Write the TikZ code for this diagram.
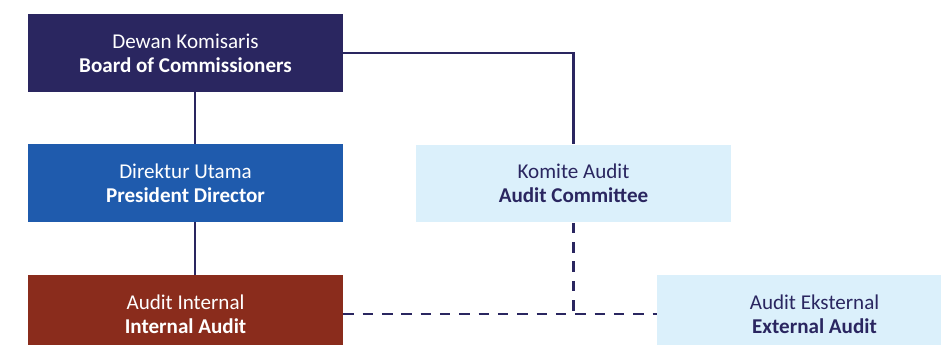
\documentclass[tikz,border=0pt]{standalone}
\usepackage{fontspec}
\setmainfont{Carlito}
\usepackage{tikz}

\definecolor{navy}{HTML}{2A2660}
\definecolor{blueDir}{HTML}{1F5BAD}
\definecolor{rust}{HTML}{8A2C1C}
\definecolor{paleblue}{HTML}{DBF0FB}

\tikzset{
    unit/.style={minimum width=6.3cm, minimum height=1.56cm, align=center,
        inner sep=0pt, font=\fontsize{12}{13.8}\selectfont},
    darkunit/.style={unit, fill=#1, text=white},
    lightunit/.style={unit, fill=paleblue, text=navy},
    link/.style={navy, line width=1.2pt},
    dottedlink/.style={link, dash pattern=on 6pt off 5pt}
}

\begin{document}
\begin{tikzpicture}[x=0.02cm, y=-0.02cm]

        \useasboundingbox (0,0) rectangle (941,345);

        \node[darkunit=navy] (board) at (185.5,53) {Dewan Komisaris\\\textbf{Board of Commissioners}};
        \node[darkunit=blueDir] (presdir) at (185.5,183) {Direktur Utama\\\textbf{President Director}};
        \node[darkunit=rust] (internal) at (185.5,314) {Audit Internal\\\textbf{Internal Audit}};

        \node[lightunit] (committee) at (573.5,183.5) {Komite Audit\\\textbf{Audit Committee}};
        \node[lightunit] (external) at (814.5,314) {Audit Eksternal\\\textbf{External Audit}};

        \draw[link] ([xshift=0.19cm]board.south) -- ([xshift=0.19cm]presdir.north);
        \draw[link] ([xshift=0.19cm]presdir.south) -- ([xshift=0.19cm]internal.north);
        \draw[link] (board.east) -| (committee.north);

        \draw[dottedlink] (committee.south) -- (committee.south |- internal.east);
        \draw[dottedlink] (internal.east) -- (external.west);
    \end{tikzpicture}
\end{document}
